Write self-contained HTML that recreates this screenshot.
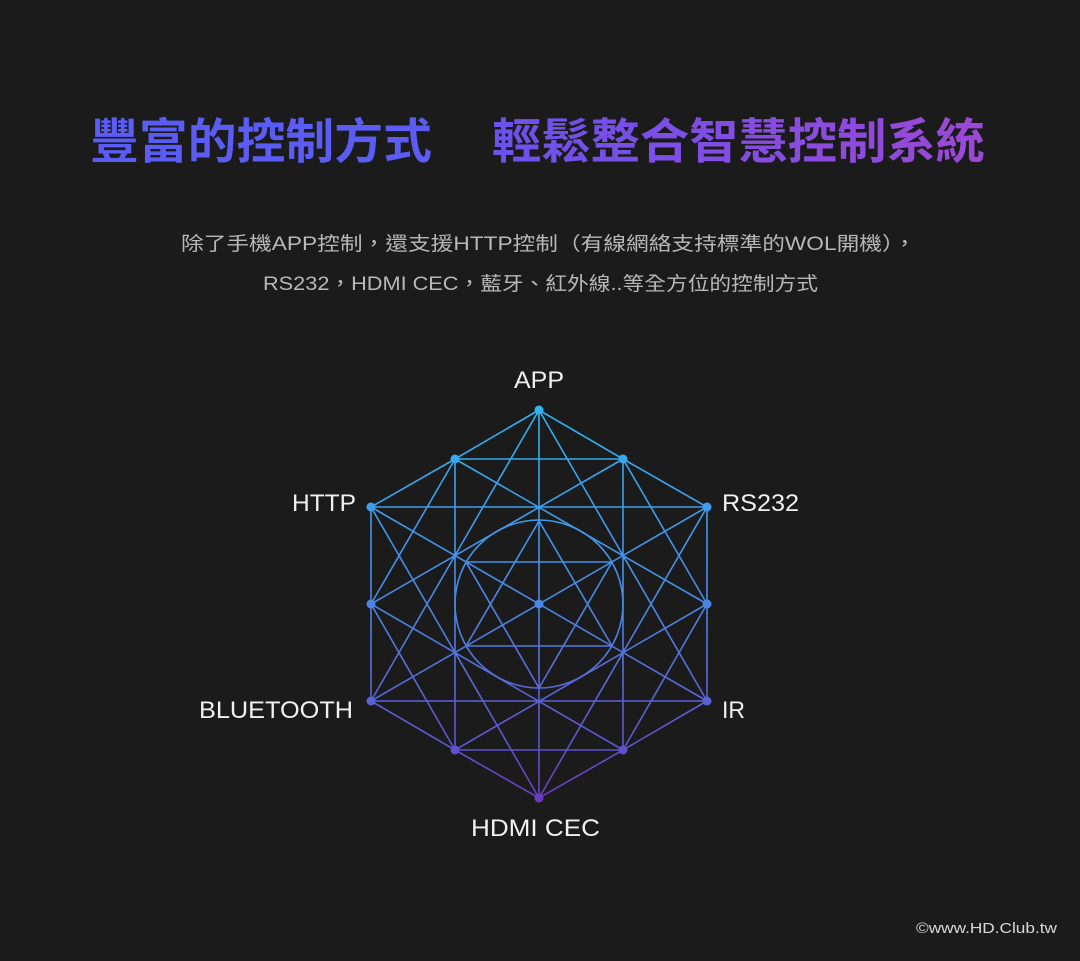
<!DOCTYPE html>
<html><head><meta charset="utf-8"><style>
html,body{margin:0;padding:0;background:#1b1b1b;}
svg{display:block}
</style></head><body>
<svg width="1080" height="961" viewBox="0 0 1080 961" xmlns="http://www.w3.org/2000/svg">
<defs>
<linearGradient id="g" gradientUnits="userSpaceOnUse" x1="0" y1="405" x2="0" y2="803">
<stop offset="0" stop-color="#2eb6f2"/><stop offset="0.5" stop-color="#4b86e6"/><stop offset="1" stop-color="#6a3cc4"/>
</linearGradient>
<linearGradient id="tg" gradientUnits="userSpaceOnUse" x1="492" y1="0" x2="985" y2="0">
<stop offset="0" stop-color="#6a52ec"/><stop offset="1" stop-color="#9b48d6"/>
</linearGradient>
</defs>
<rect width="1080" height="961" fill="#1b1b1b"/>
<g font-family="'Liberation Sans','Noto Sans CJK TC',sans-serif" font-weight="bold" font-size="48">
<text x="90" y="158" fill="#5a5cf4" textLength="342" lengthAdjust="spacingAndGlyphs">豐富的控制方式</text>
<text x="492" y="158" fill="url(#tg)" textLength="493" lengthAdjust="spacingAndGlyphs">輕鬆整合智慧控制系統</text>
</g>
<g font-family="'Liberation Sans','Noto Sans CJK TC',sans-serif" font-size="19" fill="#b8b8b8">
<text x="181" y="250" textLength="735" lengthAdjust="spacingAndGlyphs">除了手機APP控制，還支援HTTP控制（有線網絡支持標準的WOL開機），</text>
<text x="263" y="290" textLength="555" lengthAdjust="spacingAndGlyphs">RS232，HDMI CEC，藍牙、紅外線..等全方位的控制方式</text>
</g>
<g stroke="url(#g)" stroke-width="1.6" fill="none">
<polygon points="539,410 455,459 371,507 371,604 371,701 455,750 539,798 623,750 707,701 707,604 707,507 623,459"/>
<path d="M455,459H623M371,507H707M371,701H707M455,750H623
M455,459V750M623,459V750M539,410V798
M539,410L371,701M539,410L707,701M371,507L539,798M707,507L539,798
M455,459L707,604M455,750L707,604M623,459L371,604M623,750L371,604
M455,459L371,604M623,459L707,604M455,750L371,604M623,750L707,604
M371,507L707,701M707,507L371,701"/>
<circle cx="539" cy="604" r="84"/>
<polygon points="539,521 466,646 612,646"/>
<polygon points="466,562 612,562 539,688"/>
</g>
<g fill="url(#g)">
<circle cx="539" cy="410" r="4.5"/><circle cx="455" cy="459" r="4.5"/><circle cx="623" cy="459" r="4.5"/>
<circle cx="371" cy="507" r="4.5"/><circle cx="707" cy="507" r="4.5"/>
<circle cx="371" cy="604" r="4.5"/><circle cx="707" cy="604" r="4.5"/><circle cx="539" cy="604" r="4.5"/>
<circle cx="371" cy="701" r="4.5"/><circle cx="707" cy="701" r="4.5"/>
<circle cx="455" cy="750" r="4.5"/><circle cx="623" cy="750" r="4.5"/><circle cx="539" cy="798" r="4.5"/>
</g>
<g font-family="'Liberation Sans','Noto Sans CJK TC',sans-serif" font-size="24" fill="#f0f0f0" lengthAdjust="spacingAndGlyphs">
<text x="514" y="388" textLength="50" lengthAdjust="spacingAndGlyphs">APP</text>
<text x="292" y="511" textLength="64" lengthAdjust="spacingAndGlyphs">HTTP</text>
<text x="722" y="511" textLength="77" lengthAdjust="spacingAndGlyphs">RS232</text>
<text x="199" y="718" textLength="154" lengthAdjust="spacingAndGlyphs">BLUETOOTH</text>
<text x="722" y="718" textLength="23" lengthAdjust="spacingAndGlyphs">IR</text>
<text x="471" y="836" textLength="129" lengthAdjust="spacingAndGlyphs">HDMI CEC</text>
</g>
<text x="916" y="933" textLength="141" lengthAdjust="spacingAndGlyphs" font-family="'Liberation Sans',sans-serif" font-size="15" fill="#d8d8d8">©www.HD.Club.tw</text>
</svg>
</body></html>
